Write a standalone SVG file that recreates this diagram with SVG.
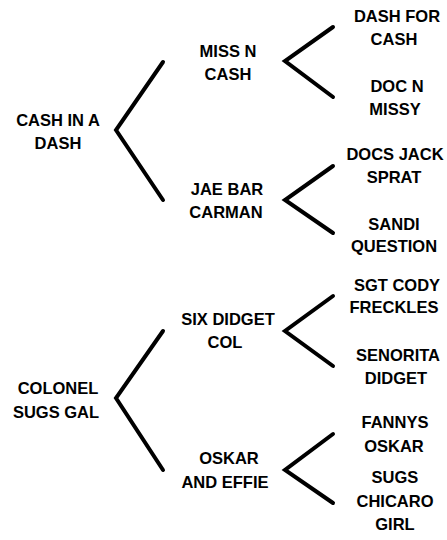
<svg xmlns="http://www.w3.org/2000/svg" width="447" height="540" viewBox="0 0 447 540">
<style>
text{font-family:"Liberation Sans",Arial,sans-serif;font-weight:bold;font-size:16.5px;fill:#000;text-anchor:middle}
.c{fill:none;stroke:#000;stroke-width:4;stroke-linecap:round;stroke-linejoin:miter}
</style>
<rect width="447" height="540" fill="#fff"/>
<g id="connectors">
<polyline class="c" points="163,62 116,130 163,200"/>
<polyline class="c" points="163,331 116,398 163,470"/>
<polyline class="c" points="333,27 285,61 333,97"/>
<polyline class="c" points="333,166 285,200 333,233"/>
<polyline class="c" points="333,296 285,331 333,366"/>
<polyline class="c" points="333,434 285,470 333,503"/>
</g>
<g id="n-cash-in-a-dash"><text x="58" y="126">CASH IN A</text><text x="58" y="149">DASH</text></g>
<g id="n-miss-n-cash"><text x="228" y="57">MISS N</text><text x="228" y="80">CASH</text></g>
<g id="n-jae-bar-carman"><text x="227" y="195">JAE BAR</text><text x="226" y="218">CARMAN</text></g>
<g id="n-dash-for-cash"><text x="397" y="22">DASH FOR</text><text x="394" y="45">CASH</text></g>
<g id="n-doc-n-missy"><text x="397" y="92">DOC N</text><text x="395" y="115">MISSY</text></g>
<g id="n-docs-jack-sprat"><text x="395" y="160">DOCS JACK</text><text x="394" y="183">SPRAT</text></g>
<g id="n-sandi-question"><text x="394" y="230">SANDI</text><text x="394" y="252">QUESTION</text></g>
<g id="n-colonel-sugs-gal"><text x="58" y="394">COLONEL</text><text x="56" y="418">SUGS GAL</text></g>
<g id="n-six-didget-col"><text x="228" y="325">SIX DIDGET</text><text x="225" y="348">COL</text></g>
<g id="n-oskar-and-effie"><text x="229" y="464">OSKAR</text><text x="225" y="488">AND EFFIE</text></g>
<g id="n-sgt-cody-freckles"><text x="397" y="291">SGT CODY</text><text x="394" y="313">FRECKLES</text></g>
<g id="n-senorita-didget"><text x="398" y="361">SENORITA</text><text x="396" y="384">DIDGET</text></g>
<g id="n-fannys-oskar"><text x="395" y="428">FANNYS</text><text x="394" y="452">OSKAR</text></g>
<g id="n-sugs-chicaro-girl"><text x="395" y="483">SUGS</text><text x="395" y="507">CHICARO</text><text x="395" y="530">GIRL</text></g>
</svg>
